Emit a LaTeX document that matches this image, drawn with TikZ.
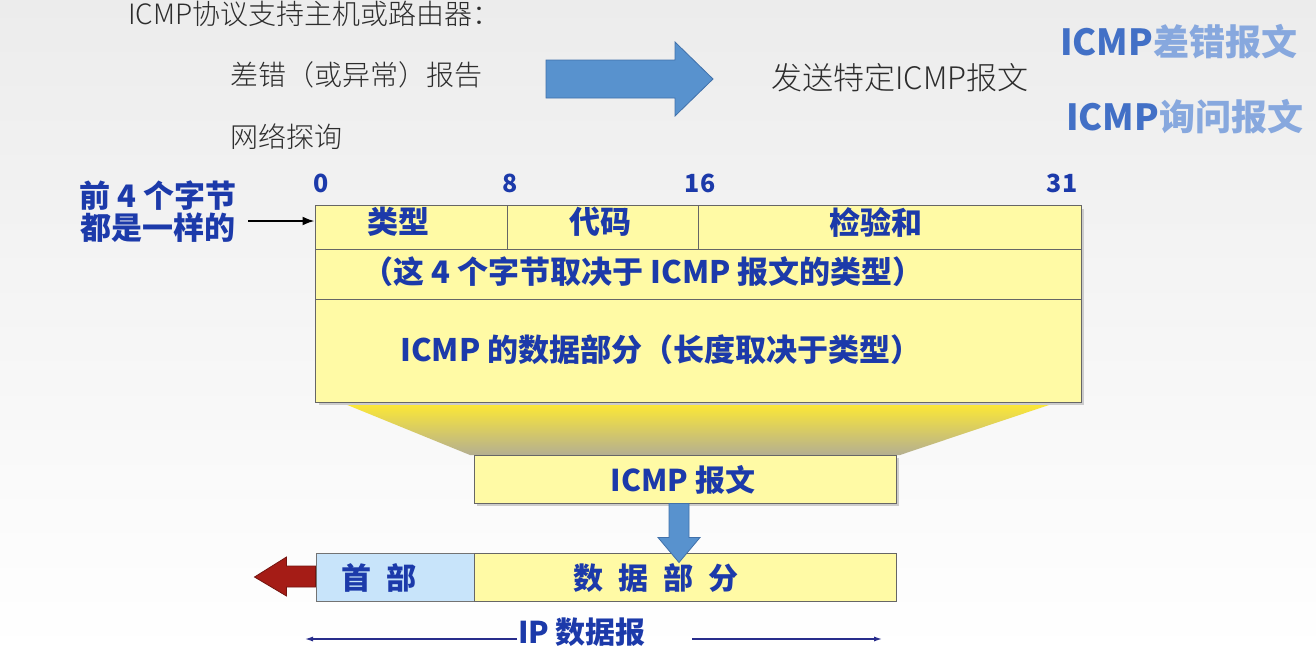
\documentclass[tikz,border=0pt]{standalone}
\usepackage{fontspec}
\setmainfont{Noto Sans CJK SC}
\IfFontExistsTF{Noto Sans CJK SC Light}{\newfontfamily\lightfont{Noto Sans CJK SC Light}}{\newfontfamily\lightfont{Noto Sans CJK SC}}
\usetikzlibrary{calc,arrows.meta}
\definecolor{txtblue}{RGB}{28,58,170}
\definecolor{cellyellow}{RGB}{255,250,165}
\definecolor{hdrblue}{RGB}{200,228,250}
\definecolor{arrowblue}{RGB}{88,146,206}
\definecolor{arrowblueedge}{RGB}{65,113,170}
\definecolor{darkred}{RGB}{165,28,22}
\definecolor{navy}{RGB}{40,45,140}
\definecolor{graytext}{RGB}{45,45,45}
\definecolor{wordblue}{RGB}{66,112,198}
\definecolor{wordlight}{RGB}{135,168,222}
\definecolor{bgtop}{RGB}{236,236,236}
\definecolor{funtop}{RGB}{255,234,50}
\definecolor{funmid}{RGB}{250,242,140}
\definecolor{funbot}{RGB}{180,175,145}
\tikzset{
  cell/.style={draw=black!60, line width=1pt, fill=cellyellow, inner sep=0pt},
  hcell/.style={draw=black!55, line width=1pt, fill=hdrblue, inner sep=0pt},
  btxt/.style={text=txtblue, font=\bfseries\fontsize{31}{35}\selectfont, inner sep=0pt},
  bigbtxt/.style={text=txtblue, font=\bfseries\fontsize{30}{33}\selectfont, inner sep=0pt},
  ltxt/.style={text=graytext, font=\lightfont\fontsize{28}{32}\selectfont, inner sep=0pt, anchor=west},
  bitno/.style={text=txtblue, font=\bfseries\fontsize{25}{28}\selectfont, inner sep=0pt},
  wordart/.style={font=\bfseries\fontsize{36}{40}\selectfont, inner sep=0pt, anchor=west},
  blockblue/.style={fill=arrowblue, draw=arrowblueedge, line width=0.8pt},
  blockred/.style={fill=darkred, draw=darkred!70!black, line width=0.8pt},
  spanarrow/.style={draw=navy, line width=1.8pt, -{Latex[length=9pt,width=5pt]}},
  shadowbox/.style={fill=black!20}
}
\begin{document}
\begin{tikzpicture}[x=1pt,y=-1pt]
\useasboundingbox (0,0) rectangle (1316,653);
\shade[top color=bgtop, bottom color=white] (0,0) rectangle (1316,653);

% top texts
\node[ltxt] (intro) at (128,14) {ICMP协议支持主机或路由器：};
\node[ltxt] (err) at (230,75) {差错（或异常）报告};
\node[ltxt] (probe) at (230,137) {网络探询};
\node[ltxt, font=\lightfont\fontsize{31}{34}\selectfont] (send) at (771,78) {发送特定ICMP报文};
\node[wordart] (w1) at (1060,42) {\textcolor{wordblue}{ICMP}\textcolor{wordlight}{差错报文}};
\node[wordart] (w2) at (1066,117) {\textcolor{wordblue}{ICMP}\textcolor{wordlight}{询问报文}};

% big blue arrow
\filldraw[blockblue] (546,60) -- (675,60) -- (675,42) -- (713,79) -- (675,116) -- (675,98) -- (546,98) -- cycle;

% bit numbers
\node[bitno] (b0) at (321,183) {0};
\node[bitno] (b8) at (510,183) {8};
\node[bitno] (b16) at (700,183) {16};
\node[bitno] (b31) at (1062,183) {31};

% left label
\node[bigbtxt, align=center, font=\bfseries\fontsize{31}{32}\selectfont] (lbl) at (158,212) {前 4 个字节\\都是一样的};
\coordinate (lblarr) at (248,221);

% funnel
\shade[top color=funtop, middle color=funmid, bottom color=funbot] (340,402) -- (1058,402) -- (900,455) -- (470,455) -- cycle;

% table
\fill[shadowbox] (319,209) rectangle (1084,405);
\node[cell, minimum width=192pt, minimum height=44pt] (c1) at (411,227) {};
\node[cell, minimum width=191pt, minimum height=44pt] (c2) at (602.5,227) {};
\node[cell, minimum width=383pt, minimum height=44pt] (c3) at (889.5,227) {};
\node[cell, minimum width=766pt, minimum height=50pt] (r2) at (698,274) {};
\node[cell, minimum width=766pt, minimum height=103pt] (r3) at (698,350.5) {};
\node[btxt] (t1) at (398,222) {类型};
\node[btxt] (t2) at (600,222) {代码};
\node[btxt] (t3) at (876,222) {检验和};
\node[btxt] (t4) at (643,272) {（这 4 个字节取决于 ICMP 报文的类型）};
\node[btxt] (t5) at (661,350) {ICMP 的数据部分（长度取决于类型）};
\draw[-{Latex[length=12pt,width=9pt]}, line width=2pt] (lblarr) -- (lblarr -| c1.west);

% ICMP box
\fill[shadowbox] (477,458) rectangle (899,506);
\node[cell, minimum width=422pt, minimum height=48pt] (icmp) at (685,479) {};
\node[bigbtxt] (icmpt) at (683,480) {ICMP 报文};

% IP datagram
\node[hcell, minimum width=158pt, minimum height=48pt] (hdr) at (395,577) {};
\node[cell, minimum width=422pt, minimum height=48pt] (data) at (685,577) {};
\node[bigbtxt] (hdrt) at (379,578) {首\hspace{0.5em}部};
\node[bigbtxt] (datat) at (656,578) {数\hspace{0.5em}据\hspace{0.5em}部\hspace{0.5em}分};

% down arrow
\coordinate (da) at ($(icmp.south)+(-6,0)$);
\filldraw[blockblue] ($(da)+(-10,0)$) -- ($(da)+(10,0)$) -- ($(da)+(10,34)$) -- ($(da)+(21,34)$) -- ($(da)+(0,59)$) -- ($(da)+(-21,34)$) -- ($(da)+(-10,34)$) -- cycle;

% red arrow
\coordinate (ra) at (hdr.west);
\filldraw[blockred] ($(ra)+(0,-11)$) -- ($(ra)+(-29,-11)$) -- ($(ra)+(-29,-20)$) -- ($(ra)+(-61,0)$) -- ($(ra)+(-29,19)$) -- ($(ra)+(-29,10)$) -- ($(ra)+(0,10)$) -- cycle;

% IP datagram label
\node[bigbtxt] (ipl) at (582,632) {IP 数据报};
\coordinate (ipll) at (517,639);
\coordinate (ipleft) at (304,639);
\coordinate (iprl) at (692,639);
\coordinate (ipright) at (883,639);
\draw[spanarrow] (ipll) -- (ipleft);
\draw[spanarrow] (iprl) -- (ipright);
\end{tikzpicture}
\end{document}
